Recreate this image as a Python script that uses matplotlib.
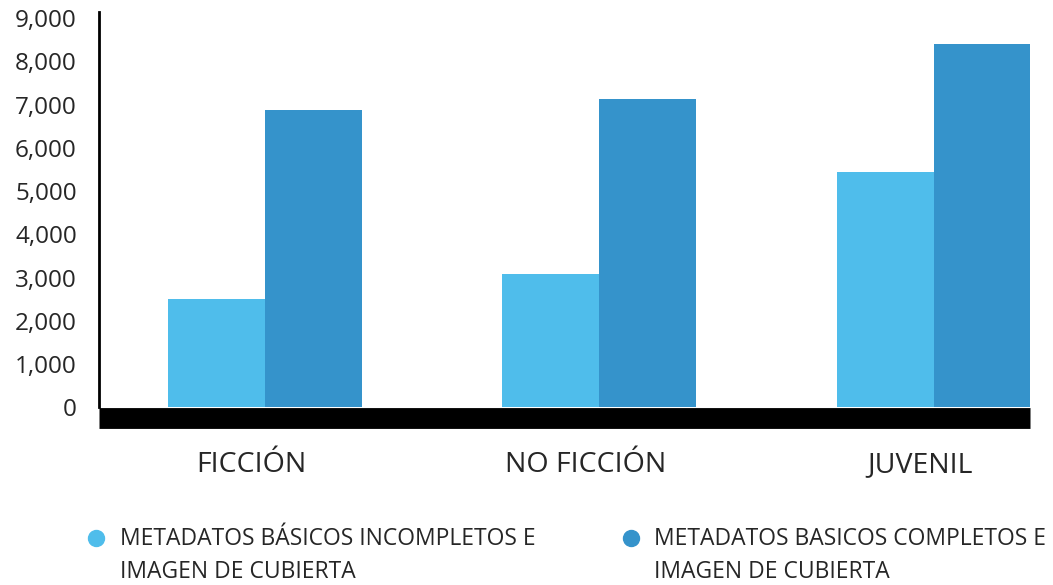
import matplotlib
matplotlib.use("Agg")
import matplotlib.pyplot as plt
from matplotlib.legend_handler import HandlerLine2D
from matplotlib.lines import Line2D
import numpy as np

categories = ["FICCIÓN", "NO FICCIÓN", "JUVENIL"]
incompletos = [2500, 3070, 5430]
completos = [6880, 7130, 8400]
series_labels = [
    "METADATOS BÁSICOS INCOMPLETOS E\nIMAGEN DE CUBIERTA",
    "METADATOS BASICOS COMPLETOS E\nIMAGEN DE CUBIERTA",
]
yticks = list(range(0, 9001, 1000))

LIGHT = "#4FBDEB"
DARK = "#3593CB"
TEXT = "#262626"

plt.rcParams["font.family"] = ["Open Sans", "DejaVu Sans"]


class TopAlignedHandler(HandlerLine2D):
    # put the legend dot next to the first text line instead of the middle
    def __init__(self, shift, **kw):
        super().__init__(**kw)
        self.shift = shift

    def create_artists(self, legend, orig_handle, xdescent, ydescent,
                       width, height, fontsize, trans):
        artists = super().create_artists(legend, orig_handle, xdescent, ydescent,
                                         width, height, fontsize, trans)
        for a in artists:
            a.set_ydata(np.asarray(a.get_ydata()) + self.shift)
        return artists


fig = plt.figure(figsize=(10.53, 5.85), dpi=100)
ax = fig.add_axes([0.094, 0.304, 0.884, 0.676])

# spines first: set_position resets the tick labels
for side in ("top", "right"):
    ax.spines[side].set_visible(False)
ax.spines["left"].set_linewidth(2)
ax.spines["bottom"].set_linewidth(15)
ax.spines["bottom"].set_position(("outward", 7.5))
ax.spines["bottom"].set_capstyle("butt")

x = np.arange(len(categories))
w = 0.29
ax.bar(x - w / 2, incompletos, width=w, color=LIGHT)
ax.bar(x + w / 2, completos, width=w, color=DARK)

ax.set_xlim(-0.496, 2.287)
ax.set_ylim(0, 9150)
ax.set_yticks(yticks)
ax.set_yticklabels([f"{v:,}" for v in yticks], fontsize=17.5, color=TEXT)
ax.set_xticks(x - 0.04)
ax.set_xticklabels(categories, fontsize=20.5, color=TEXT)
ax.tick_params(axis="both", length=0)
ax.tick_params(axis="y", pad=16)
ax.tick_params(axis="x", pad=24)

handles = [
    Line2D([], [], linestyle="none", marker="o", markersize=11.5, color=LIGHT),
    Line2D([], [], linestyle="none", marker="o", markersize=11.5, color=DARK),
]
leg = fig.legend(handles, series_labels, loc="upper left", bbox_to_anchor=(0.085, 0.099),
                 ncol=2, frameon=False, fontsize=16.5, labelcolor=TEXT,
                 handletextpad=0.71, columnspacing=3.88, handlelength=0.6,
                 borderaxespad=0, borderpad=0,
                 handler_map={Line2D: TopAlignedHandler(13.5)})
for t in leg.get_texts():
    t.set_linespacing(1.5)

fig.savefig("out.png", dpi=100)
